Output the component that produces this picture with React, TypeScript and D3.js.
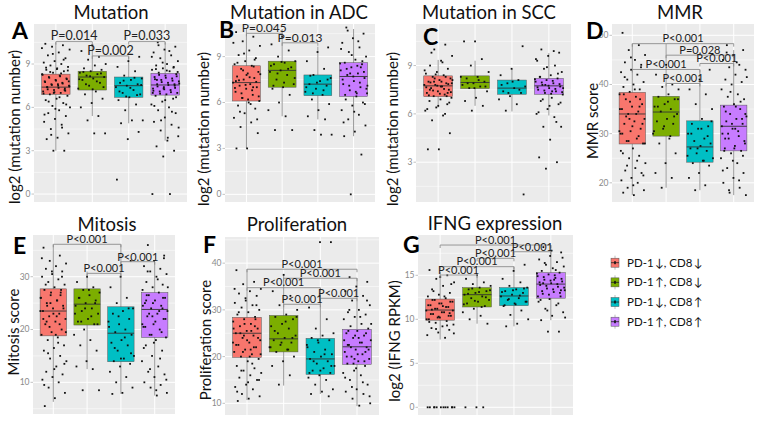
import * as d3 from "d3";

// legend / group labels and default ggplot hues
const GROUPS = ["PD-1\u2009↓, CD8\u2009↓", "PD-1\u2009↑, CD8\u2009↓", "PD-1\u2009↓, CD8\u2009↑", "PD-1\u2009↑, CD8\u2009↑"];
const COLORS = ["#F8766D", "#7CAE00", "#00BFC4", "#C77CFF"];

// box stats per group: [lower whisker, q1, median, q3, upper whisker]
const mutStats = [[3.0, 6.9, 7.4, 8.3, 10.5], [5.4, 7.2, 8.1, 8.5, 10.3], [4.9, 6.7, 7.5, 8.1, 9.5], [3.7, 6.85, 7.55, 8.35, 10.5]];
const adcStats = [[3.0, 6.1, 7.3, 8.4, 10.8], [5.1, 7.0, 8.1, 8.7, 10.8], [4.9, 6.45, 7.2, 7.8, 9.65], [3.8, 6.4, 7.7, 8.6, 10.8]];
const sccStats = [[6.4, 7.07, 7.74, 8.36, 9.35], [6.5, 7.57, 7.95, 8.36, 9.3], [6.15, 7.22, 7.6, 8.1, 8.8], [5.9, 7.22, 7.74, 8.2, 9.77]];
const mmrStats = [[17.5, 27.9, 34.0, 38.4, 48.3], [19.0, 29.5, 34.4, 37.6, 48.3], [18.5, 24.2, 27.3, 32.6, 43.0], [17.5, 26.5, 31.5, 35.8, 47.0]];
const mitStats = [[6.3, 18.8, 23.5, 27.7, 36.1], [12.5, 20.85, 24.8, 27.7, 31.0], [7.8, 13.9, 19.3, 24.3, 36.1], [7.5, 18.5, 23.8, 27.0, 32.8]];
const proStats = [[10.7, 19.85, 25.0, 28.4, 38.7], [13.8, 21.0, 23.8, 28.8, 37.5], [12.0, 16.2, 19.5, 23.9, 34.7], [9.4, 18.35, 22.1, 25.85, 36.8]];
const ifnStats = [[7.7, 9.9, 11.05, 12.3, 15.4], [9.5, 11.4, 12.8, 13.6, 14.85], [9.2, 11.55, 12.65, 13.6, 16.0], [9.9, 12.4, 14.0, 15.3, 18.4]];

// sample points per group
const mutPts = [
  [10.4, 10.3, 10.2, 10.0, 9.8, 9.6, 9.4, 9.2, 9.1, 9.0, 8.9, 8.8, 8.7, 8.6, 8.5, 8.4, 8.3, 8.2, 8.1, 8.0, 7.9, 7.8, 7.7, 7.6, 7.5, 7.5, 7.4, 7.3, 7.2, 7.1, 7.0, 6.9, 6.8, 6.6, 6.5, 6.3, 6.1, 6.0, 5.8, 5.6, 5.4, 5.2, 5.0, 4.8, 4.5, 4.2, 3.9, 3.8, 3.0, 3.0,
    8.25, 8.15, 8.05, 7.95, 7.85, 7.75, 7.65, 7.55, 7.45, 7.35, 7.25, 7.15, 7.05, 6.95, 8.35, 8.45, 8.55, 8.65, 8.75, 9.3, 9.7, 10.1, 6.7, 6.4, 6.2, 5.9, 5.5, 4.6, 4.1, 7.8, 7.6, 7.4, 7.2, 7.0],
  [10.3, 9.9, 9.5, 9.3, 9.0, 8.9, 8.7, 8.6, 8.5, 8.4, 8.3, 8.2, 8.1, 8.0, 7.9, 7.7, 7.5, 7.3, 7.1, 6.9, 6.6, 6.3, 6.0, 5.4, 5.1, 4.2, 4.2, 8.45, 8.35, 8.15, 7.95, 7.8, 7.6, 7.4, 7.25],
  [9.5, 9.2, 8.8, 8.5, 8.2, 8.0, 7.9, 7.7, 7.6, 7.5, 7.4, 7.2, 7.0, 6.9, 6.7, 6.5, 6.2, 5.8, 5.1, 5.1, 4.9, 4.3, 3.8, 1.0, 8.05, 7.85, 7.55, 7.35, 7.1, 6.85, 6.75],
  [10.5, 10.2, 10.0, 9.8, 9.6, 9.4, 9.2, 9.0, 8.9, 8.8, 8.7, 8.6, 8.5, 8.4, 8.3, 8.2, 8.1, 8.0, 7.9, 7.8, 7.7, 7.6, 7.5, 7.4, 7.3, 7.2, 7.1, 7.0, 6.9, 6.8, 6.6, 6.4, 6.2, 6.0, 5.8, 5.6, 5.3, 5.0, 4.8, 4.4, 4.0, 3.7, 3.3, 3.0, 2.6, 0, 0,
    8.25, 8.15, 8.05, 7.95, 7.85, 7.75, 7.65, 7.55, 7.45, 7.35, 7.25, 7.15, 7.05, 6.95, 8.45, 8.55, 8.65, 8.75, 9.1, 9.5, 9.9, 10.3, 6.7, 6.5, 6.1, 5.7, 5.1, 4.6, 3.9, 7.9, 7.6, 7.3, 7.0],
];
const adcPts = [
  [10.6, 10.3, 10.0, 9.7, 9.4, 9.1, 8.9, 8.7, 8.5, 8.4, 8.2, 8.0, 7.9, 7.7, 7.6, 7.5, 7.3, 7.2, 7.1, 7.0, 6.9, 6.7, 6.5, 6.3, 6.1, 6.0, 5.8, 5.6, 5.3, 5.0, 4.7, 4.4, 4.0, 3.0, 3.0,
    8.35, 8.1, 7.85, 7.65, 7.45, 7.35, 7.15, 6.95, 6.8, 6.6, 6.4, 6.2, 8.6, 8.8, 9.2, 9.9, 5.9, 5.4, 4.9, 7.8, 7.4, 7.0, 6.3],
  [10.3, 9.8, 9.4, 9.0, 8.7, 8.6, 8.5, 8.3, 8.1, 8.0, 7.8, 7.5, 7.2, 7.0, 6.9, 6.5, 6.0, 5.5, 5.1, 4.2, 4.2, 8.65, 8.4, 8.2, 7.9, 7.6, 7.3, 7.1],
  [9.6, 9.3, 8.7, 8.2, 7.8, 7.6, 7.4, 7.2, 7.1, 6.9, 6.7, 6.5, 6.2, 5.9, 5.5, 5.1, 4.9, 4.2, 3.9, 3.9, 7.75, 7.5, 7.3, 7.0, 6.8, 6.6],
  [10.9, 10.5, 10.2, 9.9, 9.6, 9.3, 9.0, 8.8, 8.6, 8.5, 8.3, 8.1, 7.9, 7.8, 7.6, 7.4, 7.2, 7.0, 6.8, 6.6, 6.4, 6.2, 6.0, 5.8, 5.5, 5.2, 4.9, 4.5, 4.1, 3.8, 2.6, 0,
    8.55, 8.4, 8.2, 8.0, 7.7, 7.5, 7.3, 7.1, 6.9, 6.7, 6.5, 8.7, 9.1, 9.5, 10.0, 10.7, 5.9, 5.4, 4.7, 8.3, 7.9, 7.1, 6.6],
];
const sccPts = [
  [11.2, 10.3, 10.0, 9.6, 9.3, 9.0, 8.8, 8.6, 8.5, 8.4, 8.3, 8.2, 8.1, 8.0, 7.9, 7.8, 7.8, 7.7, 7.6, 7.5, 7.4, 7.3, 7.2, 7.1, 7.0, 6.9, 6.8, 6.6, 6.4, 6.2, 5.9, 5.6, 4.8, 3.8, 3.8,
    8.3, 8.2, 8.1, 8.0, 7.95, 7.85, 7.75, 7.65, 7.55, 7.45, 7.35, 7.25, 7.15, 7.1, 8.45, 8.7, 9.2, 9.8, 6.7, 6.5, 6.3, 6.0, 8.0, 7.9, 7.7, 7.5, 7.3],
  [10.5, 10.5, 9.4, 9.0, 8.6, 8.3, 8.2, 8.0, 7.9, 7.8, 7.7, 7.6, 7.4, 7.0, 6.8, 6.5, 6.2, 8.3, 8.1, 7.9, 7.7, 7.6],
  [10.2, 8.8, 8.4, 8.1, 7.9, 7.7, 7.6, 7.4, 7.3, 7.1, 6.9, 6.6, 6.2, 1.0, 8.0, 7.8, 7.5, 7.3],
  [10.0, 9.8, 9.6, 9.3, 9.0, 8.8, 8.6, 8.4, 8.3, 8.2, 8.1, 8.0, 7.9, 7.8, 7.7, 7.6, 7.5, 7.4, 7.3, 7.2, 7.0, 6.8, 6.6, 6.3, 6.0, 5.8, 5.2, 5.2, 4.4, 3.3, 3.0, 2.6,
    8.15, 8.05, 7.95, 7.85, 7.75, 7.65, 7.55, 7.45, 7.35, 7.25, 8.3, 8.5, 8.9, 9.4, 9.9, 6.9, 6.7, 6.5, 6.1, 5.5, 7.8, 7.6, 7.4],
];
const mmrPts = [
  [50.5, 48, 47, 46, 45, 44.5, 44, 43, 42.5, 42, 41, 40.5, 40, 39.5, 39, 38.5, 38, 37.5, 37, 36, 35.5, 35, 34.5, 34, 33, 32.5, 32, 31, 30.5, 30, 29, 28.5, 28, 27, 26, 25.5, 25, 24, 23, 22.5, 22, 21, 20.5, 20, 19, 18.5, 17.5,
    38, 37, 36.5, 35, 34, 33.5, 32, 31.5, 30, 29.5, 28.5, 28, 39, 41.5, 43.5, 45.5, 26.5, 24.5, 23.5, 21.5, 19.5, 18, 35.5, 33, 30.5],
  [44, 42, 40, 39.5, 39, 38, 37.5, 37, 36, 35.5, 35, 34.5, 34, 33, 32.5, 32, 31, 30, 29, 28, 26, 24, 22, 21, 19, 37, 36.5, 35.5, 33.5, 31.5, 30.5, 29.5],
  [43, 41, 39, 38, 36, 35, 33, 32, 31.5, 31, 30, 29, 28.5, 28, 27.5, 27, 26.5, 26, 25, 24.5, 24, 23.5, 22, 21, 19.5, 18.5, 32.5, 31, 30, 29.5, 27, 25.5, 24.5],
  [48, 47, 46, 45, 44, 43.5, 43, 42, 41, 40.5, 40, 39, 38, 37.5, 37, 36, 35.5, 35, 34, 33.5, 33, 32.5, 32, 31, 30, 29.5, 29, 28, 27.5, 27, 26.5, 26, 25, 24, 23, 22, 21, 20, 19, 18, 17.5,
    35.5, 34.5, 33, 32, 31.5, 30.5, 30, 28.5, 27, 26.5, 36.5, 38.5, 41.5, 44.5, 46.5, 25.5, 24.5, 22.5, 20.5, 18.5, 34, 31, 29],
];
const mitPts = [
  [35.5, 34, 33, 32.5, 32, 31.5, 31, 30.5, 30, 29.5, 29, 28.5, 28, 27.5, 27, 26.5, 26, 25.5, 25, 24.5, 24, 23.5, 23, 22.5, 22, 21.5, 21, 20, 19.5, 19, 18.5, 18, 17, 16.5, 16, 15, 14.5, 14, 13, 12, 11.5, 11, 10.5, 10, 9, 8, 7, 5.5,
    27.5, 27, 26, 25.5, 24.5, 24, 23, 22, 21, 20.5, 19.5, 19, 28.5, 30, 31, 33.5, 17.5, 15.5, 13.5, 12.5, 9.5, 26.5, 25, 23.5, 22.5, 21.5],
  [30, 29, 28, 27.5, 27, 26.5, 26, 25.5, 25, 24.5, 24, 23.5, 23, 22, 21.5, 21, 20, 19, 18, 17, 16, 14, 13, 12.5, 8.5, 8.5, 27.5, 26, 25, 24, 23, 22.5, 21.5, 21],
  [33, 30, 28, 26, 25, 24, 23.5, 23, 22, 21, 20.5, 20, 19.5, 19, 18, 17.5, 17, 16, 15, 14.5, 14, 13.5, 13, 12, 11, 10, 9, 8, 7.8, 24, 22.5, 21.5, 18.5, 16.5, 15.5, 14.5],
  [36, 34, 33, 32, 31.5, 31, 30.5, 30, 29, 28.5, 28, 27.5, 27, 26.5, 26, 25.5, 25, 24.5, 24, 23.5, 23, 22.5, 22, 21, 20.5, 20, 19, 18.5, 18, 17, 16, 15, 14, 13, 12, 11.5, 11, 10, 9.5, 9, 8, 7.5,
    26.5, 26, 25, 24.5, 23.5, 23, 22, 21.5, 20.5, 19.5, 19, 28, 29.5, 31, 33.5, 17.5, 16.5, 14.5, 12.5, 10.5, 8.5, 25.5, 24, 22.5, 21],
];
const proPts = [
  [38.5, 36, 35.5, 34.5, 34, 33.5, 33, 32, 31.5, 31, 30.5, 30, 29.5, 29, 28.5, 28, 27.5, 27, 26.5, 26, 25.5, 25, 24.5, 24, 23.5, 23, 22.5, 22, 21.5, 21, 20.5, 20, 19.5, 19, 18, 17.5, 17, 16.5, 16, 15.5, 15, 14, 13.5, 13, 12, 11.5, 11, 10.5,
    28, 27, 26, 25.5, 25, 24, 23.5, 22.5, 22, 21, 20.5, 20, 29.5, 31, 32.5, 34.5, 18.5, 17, 15, 14.5, 12.5, 26.5, 24.5, 23, 21.5],
  [37.5, 34, 33, 31, 30, 29, 28.5, 28, 27, 26.5, 26, 25, 24.5, 24, 23.5, 23, 22.5, 22, 21.5, 21, 20, 19, 18, 16, 14, 28.5, 27.5, 25.5, 24, 23, 22, 21.5],
  [44.5, 44.5, 30.5, 28, 26, 25, 24.5, 24, 23.5, 23, 22, 21.5, 21, 20.5, 20, 19.5, 19, 18.5, 18, 17.5, 17, 16.5, 16, 15.5, 15, 14, 13, 12.5, 12, 11.5, 23.5, 22.5, 20.5, 19, 18, 17, 16.5],
  [37, 36, 35, 34, 33, 32, 31, 30, 29.5, 29, 28.5, 28, 27, 26.5, 26, 25.5, 25, 24.5, 24, 23.5, 23, 22.5, 22, 21.5, 21, 20.5, 20, 19.5, 19, 18.5, 18, 17, 16.5, 16, 15, 14, 13, 12.5, 12, 11, 10, 9.5,
    25.5, 25, 24.5, 23.5, 23, 22, 21.5, 20.5, 20, 19, 18.5, 27, 28.5, 30, 32, 17.5, 15.5, 14.5, 13.5, 11.5, 24, 22.5, 21, 19.5],
];
const ifnPts = [
  [15.6, 15, 14.6, 14.2, 13.8, 13.4, 13, 12.8, 12.6, 12.4, 12.2, 12, 11.8, 11.6, 11.4, 11.2, 11, 10.8, 10.6, 10.4, 10.2, 10, 9.8, 9.6, 9.4, 9.2, 9, 8.8, 8.5, 8.2, 7.9, 0, 0, 0, 0, 0, 0, 0, 0,
    12.2, 12, 11.8, 11.6, 11.4, 11.2, 11, 10.8, 10.6, 10.4, 10.2, 10, 12.6, 13.2, 14, 14.8, 9.7, 9.3, 8.9, 8.4, 11.5, 11.1, 10.7, 10.3, 0, 0, 0, 0],
  [15, 14.6, 14.2, 14, 13.8, 13.6, 13.4, 13.2, 13, 12.8, 12.6, 12.4, 12.2, 12, 11.8, 11.5, 11.2, 10.8, 10.4, 10, 9.5, 0, 0, 0, 13.5, 13.3, 13.1, 12.9, 12.5, 12.1, 11.7, 11.4],
  [16.2, 15.5, 14.6, 14.2, 13.8, 13.6, 13.4, 13.2, 13, 12.8, 12.6, 12.4, 12.2, 12, 11.8, 11.5, 11, 10.5, 10, 9.5, 9.2, 13.5, 13.3, 13.1, 12.7, 12.3, 12.0, 11.7, 11.6],
  [18.2, 17.6, 17.2, 16.8, 16.5, 16.2, 16, 15.8, 15.5, 15.3, 15.1, 14.9, 14.7, 14.5, 14.3, 14.1, 13.9, 13.7, 13.5, 13.3, 13.1, 12.9, 12.6, 12.3, 12, 11.6, 11.2, 10.8, 10.4, 9.9, 8.6, 8.6,
    15.2, 15, 14.8, 14.6, 14.4, 14.2, 14, 13.8, 13.6, 13.4, 13.2, 13, 12.8, 12.6, 15.6, 16.4, 17, 17.8, 12.2, 11.8, 11, 10.2, 14.5, 14.1, 13.3],
];

// significance brackets: [from group, to group, height, label]
const mutSig: [number, number, number, string][] = [[0, 1, 10.55, "P=0.014"], [1, 2, 9.56, "P=0.002"], [2, 3, 10.55, "P=0.033"]];
const adcSig: [number, number, number, string][] = [[0, 1, 10.52, "P=0.045"], [1, 2, 9.9, "P=0.013"]];
const sccSig: [number, number, number, string][] = [];
const mmrSig: [number, number, number, string][] = [[0, 3, 48.3, "P<0.001"], [1, 3, 45.96, "P=0.028"], [2, 3, 44.27, "P<0.001"], [0, 2, 43.05, "P<0.001"], [1, 2, 40.2, "P<0.001"]];
const mitSig: [number, number, number, string][] = [[0, 2, 36.14, "P<0.001"], [2, 3, 32.84, "P<0.001"], [1, 2, 30.64, "P<0.001"]];
const proSig: [number, number, number, string][] = [[0, 3, 38.7, "P<0.001"], [1, 3, 36.77, "P<0.001"], [0, 2, 34.75, "P<0.001"], [2, 3, 32.48, "P<0.001"], [1, 2, 31.2, "P<0.001"]];
const ifnSig: [number, number, number, string][] = [[0, 3, 18.44, "P<0.001"], [2, 3, 17.68, "P<0.001"], [1, 2, 16.93, "P<0.001"], [0, 2, 15.98, "P<0.001"], [0, 1, 15.03, "P<0.001"]];

const FONT = "Lato, 'Open Sans', sans-serif";

const panels = [
  { letter: "A", title: "Mutation", ylab: "log2 (mutation number)", stats: mutStats, pts: mutPts, sig: mutSig, ticks: [0, 3, 6, 9], domain: [-0.55, 11.77], box: [34, 187, 24, 202], letterPos: [12, 39], titlePos: [111, 19], ylabPos: [14, 127], pSize: 12.5 },
  { letter: "B", title: "Mutation in ADC", ylab: "log2 (mutation number)", stats: adcStats, pts: adcPts, sig: adcSig, ticks: [0, 3, 6, 9], domain: [-0.5, 11.13], box: [225, 375, 24, 202], letterPos: [219, 38], titlePos: [299, 19], ylabPos: [203, 129], pSize: 12 },
  { letter: "C", title: "Mutation in SCC", ylab: "log2 (mutation number)", stats: sccStats, pts: sccPts, sig: sccSig, ticks: [3, 6, 9], domain: [0.53, 11.58], box: [416, 571, 24, 202], letterPos: [423, 45], titlePos: [489, 19], ylabPos: [392, 129], pSize: 12 },
  { letter: "D", title: "MMR", ylab: "MMR score", stats: mmrStats, pts: mmrPts, sig: mmrSig, ticks: [20, 30, 40, 50], domain: [16.1, 52.3], box: [612, 754, 24, 202], letterPos: [586, 39], titlePos: [680, 19], ylabPos: [592, 121], pSize: 11 },
  { letter: "E", title: "Mitosis", ylab: "Mitosis score", stats: mitStats, pts: mitPts, sig: mitSig, ticks: [10, 20, 30], domain: [4.0, 37.9], box: [33, 175, 235, 414], letterPos: [13, 254], titlePos: [107, 231], ylabPos: [13, 332], pSize: 11 },
  { letter: "F", title: "Proliferation", ylab: "Proliferation score", stats: proStats, pts: proPts, sig: proSig, ticks: [10, 20, 30, 40], domain: [7.5, 45.6], box: [225, 379, 237, 415], letterPos: [203, 253], titlePos: [297, 231], ylabPos: [205, 340], pSize: 11 },
  { letter: "G", title: "IFNG expression", ylab: "log2 (IFNG RPKM)", stats: ifnStats, pts: ifnPts, sig: ifnSig, ticks: [0, 5, 10, 15], domain: [-0.875, 19.58], box: [418, 573, 235, 415], letterPos: [403, 253], titlePos: [495, 230], ylabPos: [394, 341], pSize: 11 },
];

function jitter(i: number, g: number) {
  return ((i * 0.6180339887 + g * 0.37 + 0.13) % 1) - 0.5;
}

function Panel({ p }: { p: (typeof panels)[number] }) {
  const [x0, x1, y0, y1] = p.box;
  const band = (x1 - x0) / 4.2;
  const x = d3.scalePoint<number>().domain([0, 1, 2, 3]).range([x0 + 0.6 * band, x1 - 0.6 * band]);
  const y = d3.scaleLinear().domain(p.domain).range([y1, y0]);
  const step = p.ticks[1] - p.ticks[0];
  const minors = d3.range(p.ticks[0] - step / 2, p.domain[1], step).filter((v) => v > p.domain[0]);
  const bw = band * 0.78;
  return (
    <g>
      <rect x={x0} y={y0} width={x1 - x0} height={y1 - y0} fill="#EBEBEB" />
      {minors.map((v) => (
        <line key={"m" + v} x1={x0} x2={x1} y1={y(v)} y2={y(v)} stroke="#fff" strokeWidth={0.5} />
      ))}
      {p.ticks.map((v) => (
        <line key={"t" + v} x1={x0} x2={x1} y1={y(v)} y2={y(v)} stroke="#fff" strokeWidth={1} />
      ))}
      {[0, 1, 2, 3].map((g) => (
        <line key={"v" + g} x1={x(g)} x2={x(g)} y1={y0} y2={y1} stroke="#fff" strokeWidth={1} />
      ))}
      {p.ticks.map((v) => (
        <g key={"l" + v}>
          <line x1={x0 - 2.5} x2={x0} y1={y(v)} y2={y(v)} stroke="#999" strokeWidth={0.6} />
          <text x={x0 - 3.5} y={y(v)} dy="0.35em" textAnchor="end" fontSize={8.5} fill="#8a8a8a" fontFamily={FONT}>
            {v}
          </text>
        </g>
      ))}
      {p.stats.map((s, g) => {
        const cx = x(g)!;
        return (
          <g key={"b" + g}>
            <line x1={cx} x2={cx} y1={y(s[0])} y2={y(s[4])} stroke="#8c8c8c" strokeWidth={0.9} />
            <rect x={cx - bw / 2} y={y(s[3])} width={bw} height={y(s[1]) - y(s[3])} fill={COLORS[g]} stroke="#555" strokeWidth={0.5} />
            <line x1={cx - bw / 2} x2={cx + bw / 2} y1={y(s[2])} y2={y(s[2])} stroke="#333" strokeWidth={0.9} />
          </g>
        );
      })}
      {p.pts.map((arr, g) =>
        arr.map((v, i) => (
          <rect key={"p" + g + "_" + i} x={x(g)! + jitter(i, g) * bw - 0.9} y={y(v) - 0.9} width={1.8} height={1.8} fill="#111" />
        ))
      )}
      {p.sig.map(([a, b, h, lab], k) => {
        const xa = x(a)!;
        const xb = x(b)!;
        const yy = y(h);
        return (
          <g key={"s" + k}>
            <path d={`M${xa},${yy + 3}V${yy}H${xb}V${yy + 3}`} fill="none" stroke="#8c8c8c" strokeWidth={0.9} />
            <text x={(xa + xb) / 2} y={yy - 1.2} textAnchor="middle" fontSize={p.pSize} fill="#222" fontFamily={FONT}>
              {lab}
            </text>
          </g>
        );
      })}
      <text x={p.titlePos[0]} y={p.titlePos[1]} textAnchor="middle" fontSize={18.5} fill="#111" fontFamily={FONT}>
        {p.title}
      </text>
      <text x={p.letterPos[0]} y={p.letterPos[1]} fontSize={23} fontWeight={700} fill="#000" fontFamily={FONT}>
        {p.letter}
      </text>
      <text
        transform={`translate(${p.ylabPos[0]},${p.ylabPos[1]}) rotate(-90)`}
        textAnchor="middle"
        dominantBaseline="central"
        fontSize={15}
        fill="#111"
        fontFamily={FONT}
      >
        {p.ylab}
      </text>
    </g>
  );
}

function Legend() {
  const ys = d3.scalePoint<number>().domain([0, 1, 2, 3]).range([262.7, 321.7]);
  return (
    <g>
      {GROUPS.map((g, i) => {
        const cy = ys(i)!;
        return (
          <g key={g}>
            <line x1={615} x2={615} y1={cy - 7} y2={cy + 7} stroke="#aaa" strokeWidth={0.8} />
            <rect x={611} y={cy - 4.5} width={8} height={9} fill={COLORS[i]} stroke="#555" strokeWidth={0.5} />
            <line x1={611} x2={619} y1={cy} y2={cy} stroke="#222" strokeWidth={0.8} />
            <rect x={614.2} y={cy - 1.5} width={1.6} height={3} fill="#111" />
            <text x={627} y={cy} dy="0.35em" fontSize={11.5} fill="#111" fontFamily={FONT}>
              {g}
            </text>
          </g>
        );
      })}
    </g>
  );
}

export default function App() {
  return (
    <svg width={757} height={423} style={{ position: "absolute", left: 0, top: 0, background: "#fff" }}>
      <rect width={757} height={423} fill="#fff" />
      {panels.map((p) => (
        <Panel key={p.letter} p={p} />
      ))}
      <Legend />
    </svg>
  );
}
